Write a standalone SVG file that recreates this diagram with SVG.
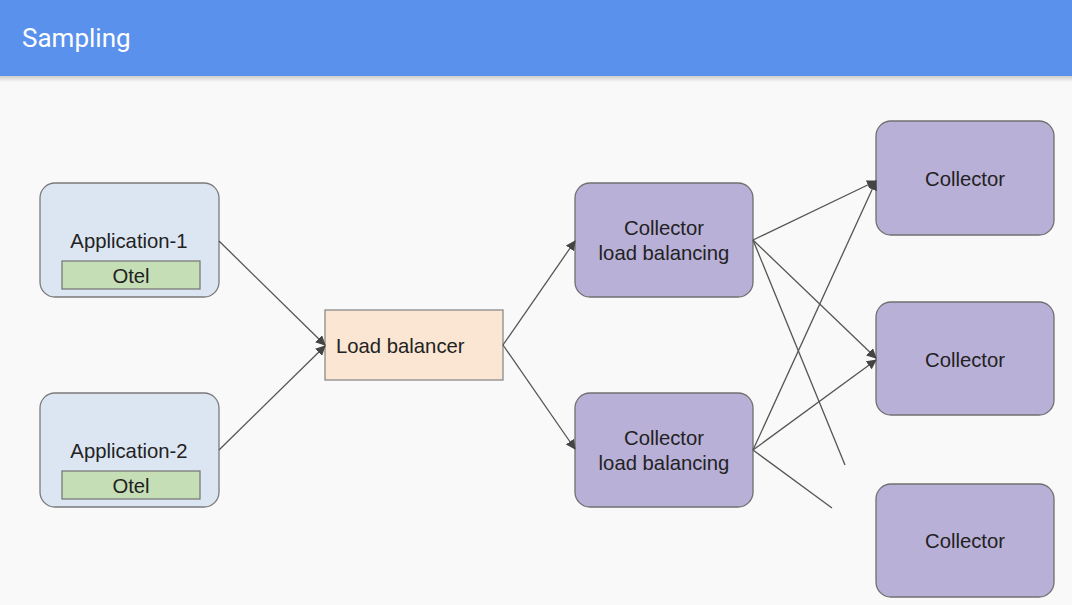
<svg xmlns="http://www.w3.org/2000/svg" width="1072" height="605" viewBox="0 0 1072 605">
<defs>
<marker id="arr" viewBox="0 0 10 10" refX="9" refY="5" markerWidth="10" markerHeight="10" markerUnits="userSpaceOnUse" orient="auto">
<path d="M0,0 L10,5 L0,10 z" fill="#444"/>
</marker>
<linearGradient id="shadow" x1="0" y1="0" x2="0" y2="1">
<stop offset="0" stop-color="#000" stop-opacity="0.18"/>
<stop offset="1" stop-color="#000" stop-opacity="0"/>
</linearGradient>
<style>
text{font-family:"Liberation Sans",Arial,sans-serif;fill:#222;font-size:20.3px;text-anchor:middle}
.app{fill:#DCE6F3;stroke:#7A7A7A;stroke-width:1.3}
.otel{fill:#C6DEB6;stroke:#7A7A7A;stroke-width:1.3}
.lb{fill:#FBE6D4;stroke:#8A8A8A;stroke-width:1.3}
.col{fill:#B9B0D8;stroke:#6F6F6F;stroke-width:1.3}
.edge{stroke:#555;stroke-width:1.3;fill:none}
</style>
</defs>
<rect width="1072" height="605" fill="#F9F9F9"/>
<rect x="0" y="76" width="1072" height="6" fill="url(#shadow)"/>
<rect x="0" y="0" width="1072" height="76" fill="#5A91EC"/>
<text x="22" y="47" style="fill:#fff;font-size:26px;text-anchor:start;font-family:Roboto,'Liberation Sans',sans-serif">Sampling</text>

<g id="app1">
<rect class="app" x="40" y="183" width="179" height="114" rx="15"/>
<text x="129" y="248">Application-1</text>
<rect class="otel" x="62" y="261" width="138" height="28"/>
<text x="131" y="283">Otel</text>
</g>
<g id="app2">
<rect class="app" x="40" y="393" width="179" height="114" rx="15"/>
<text x="129" y="458">Application-2</text>
<rect class="otel" x="62" y="471" width="138" height="28"/>
<text x="131" y="493">Otel</text>
</g>
<g id="lb">
<rect class="lb" x="325" y="310" width="178" height="70"/>
<text x="336" y="353" style="text-anchor:start">Load balancer</text>
</g>
<g id="clb1">
<rect class="col" x="575" y="183" width="178" height="114" rx="15"/>
<text x="664" y="235">Collector</text>
<text x="664" y="260">load balancing</text>
</g>
<g id="clb2">
<rect class="col" x="575" y="393" width="178" height="114" rx="15"/>
<text x="664" y="445">Collector</text>
<text x="664" y="470">load balancing</text>
</g>
<g id="c1">
<rect class="col" x="876" y="121" width="178" height="114" rx="15"/>
<text x="965" y="186">Collector</text>
</g>
<g id="c2">
<rect class="col" x="876" y="302" width="178" height="113" rx="15"/>
<text x="965" y="367">Collector</text>
</g>
<g id="c3">
<rect class="col" x="876" y="484" width="178" height="113" rx="15"/>
<text x="965" y="548">Collector</text>
</g>

<g id="connectors">
<line class="edge" x1="219" y1="241" x2="325" y2="345" marker-end="url(#arr)"/>
<line class="edge" x1="219" y1="450" x2="325" y2="346" marker-end="url(#arr)"/>
<line class="edge" x1="503" y1="345" x2="575" y2="241" marker-end="url(#arr)"/>
<line class="edge" x1="503" y1="345" x2="575" y2="449" marker-end="url(#arr)"/>
<line class="edge" x1="753" y1="240" x2="876" y2="181" marker-end="url(#arr)"/>
<line class="edge" x1="753" y1="240" x2="876" y2="358" marker-end="url(#arr)"/>
<line class="edge" x1="753" y1="240" x2="845" y2="465"/>
<line class="edge" x1="753" y1="450" x2="876" y2="181" marker-end="url(#arr)"/>
<line class="edge" x1="753" y1="450" x2="876" y2="360" marker-end="url(#arr)"/>
<line class="edge" x1="753" y1="450" x2="832" y2="508"/>
</g>
</svg>
